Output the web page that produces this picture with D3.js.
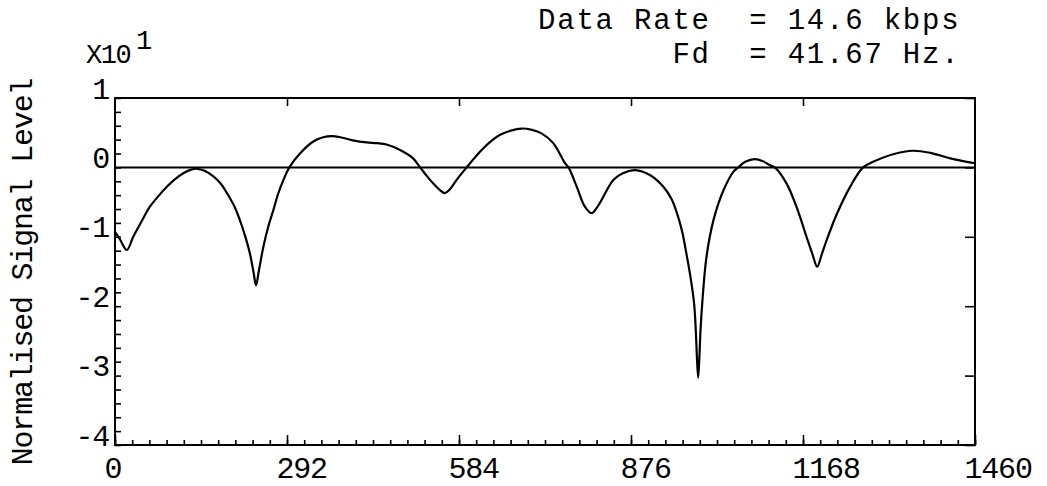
<!DOCTYPE html>
<html>
<head>
<meta charset="utf-8">
<script src="https://cdn.jsdelivr.net/npm/d3@7"></script>
<style>
  html, body { margin: 0; padding: 0; background: #fff; }
  svg text { font-family: "Liberation Mono", "DejaVu Sans Mono", monospace; fill: #000; white-space: pre; }
</style>
</head>
<body>
<svg id="chart" width="1047" height="486"></svg>
<script>
// Sample position along the record (x) and normalised level in units of 10 dB (y)
const sampleIndex = [
  0, 8, 20, 31, 45, 59, 74, 88, 102, 116, 128, 140, 152, 167, 180, 190, 202, 212, 222, 229,
  235, 239.5, 244, 252, 260, 269, 277, 286, 296, 314, 336, 352, 370, 390, 404, 427, 445, 461, 484, 506,
  518, 530, 540, 552, 560, 568, 580, 597, 620, 640, 654, 672, 690, 708, 724, 744, 764, 770, 784, 798,
  809, 818, 826, 846, 863, 883, 908, 931, 945, 954, 963, 970, 977, 983, 986, 988, 990, 992, 994, 997,
  1004, 1016, 1033, 1050, 1058, 1070, 1086, 1100, 1112, 1120, 1140, 1157, 1174, 1184, 1192, 1200, 1208, 1226, 1248, 1270,
  1287, 1321, 1355, 1384, 1418, 1440, 1460
];
const signalLevel = [
  -0.93, -1.03, -1.19, -1.00, -0.78, -0.57, -0.41, -0.28, -0.17, -0.085, -0.035, -0.02, -0.05, -0.13, -0.24, -0.37, -0.55, -0.76, -1.02, -1.24,
  -1.50, -1.70, -1.50, -1.14, -0.86, -0.61, -0.38, -0.18, 0.0, 0.20, 0.37, 0.43, 0.45, 0.42, 0.39, 0.36, 0.35, 0.33, 0.25, 0.13,
  0.0, -0.13, -0.23, -0.33, -0.37, -0.32, -0.18, 0.0, 0.23, 0.39, 0.47, 0.53, 0.56, 0.54, 0.49, 0.35, 0.06, 0.0, -0.28, -0.57,
  -0.66, -0.58, -0.47, -0.18, -0.08, -0.04, -0.11, -0.28, -0.46, -0.66, -0.93, -1.24, -1.58, -1.95, -2.35, -2.75, -3.03, -2.75, -2.35, -1.95,
  -1.30, -0.76, -0.33, -0.06, 0.0, 0.08, 0.12, 0.09, 0.03, 0.0, -0.23, -0.57, -1.00, -1.25, -1.43, -1.25, -1.05, -0.66, -0.28, 0.0,
  0.08, 0.19, 0.24, 0.21, 0.13, 0.09, 0.06
];

const xTickValues = [0, 292, 584, 876, 1168, 1460];
const xTickLabels = ["0", "292", "584", "876", "1168", "1460"];
const yTickValues = [1, 0, -1, -2, -3, -4];
const yTickLabels = ["1", "0", "-1", "-2", "-3", "-4"];
const scaleLabel = "X10";
const scaleExponent = "1";
const yTitle = "Normalised Signal Level";
const titleLines = ["Data Rate  = 14.6 kbps", "       Fd  = 41.67 Hz."];

const svg = d3.select("#chart");
const plot = { left: 115, right: 975, top: 98, bottom: 445 };

const x = d3.scaleLinear().domain([0, 1460]).range([plot.left, plot.right]);
const y = d3.scaleLinear().domain([-4, 1]).range([plot.bottom, plot.top]);

const strokeW = 2;
const labelFont = { size: 30, spacing: -1.2 };

// Minor ticks along the bottom (inside the frame)
const minorX = d3.range(0, 1460.01, 29.2);
svg.append("g")
  .attr("transform", `translate(0,${plot.bottom})`)
  .call(d3.axisBottom(x).tickValues(minorX).tickSize(-5).tickFormat(""))
  .call(g => g.select(".domain").remove())
  .call(g => g.selectAll("line").attr("stroke", "#000").attr("stroke-width", 1.6));

// Major ticks and labels along the bottom
const bottomLabels = new Map(xTickValues.map((v, i) => [v, xTickLabels[i]]));
svg.append("g")
  .attr("transform", `translate(0,${plot.bottom})`)
  .call(d3.axisBottom(x).tickValues(xTickValues).tickSize(-10).tickFormat(d => bottomLabels.get(d)))
  .call(g => g.select(".domain").remove())
  .call(g => g.selectAll("line").attr("stroke", "#000").attr("stroke-width", 1.6))
  .call(g => g.selectAll("text")
    .attr("x", -11).attr("y", 33).attr("dy", null)
    .attr("text-anchor", "start")
    .attr("font-size", labelFont.size)
    .attr("letter-spacing", labelFont.spacing)
    .attr("fill", "#000"));

// Major ticks along the top
svg.append("g")
  .attr("transform", `translate(0,${plot.top})`)
  .call(d3.axisTop(x).tickValues(xTickValues.slice(1, -1)).tickSize(-8).tickFormat(""))
  .call(g => g.select(".domain").remove())
  .call(g => g.selectAll("line").attr("stroke", "#000").attr("stroke-width", 1.6));

// Minor ticks on the left
const minorY = d3.range(-4, 1.001, 0.2);
svg.append("g")
  .attr("transform", `translate(${plot.left},0)`)
  .call(d3.axisLeft(y).tickValues(minorY).tickSize(-6).tickFormat(""))
  .call(g => g.select(".domain").remove())
  .call(g => g.selectAll("line").attr("stroke", "#000").attr("stroke-width", 1.6));

// Left labels, sitting on their tick
const leftLabels = new Map(yTickValues.map((v, i) => [v, yTickLabels[i]]));
svg.append("g")
  .attr("transform", `translate(${plot.left},0)`)
  .call(d3.axisLeft(y).tickValues(yTickValues).tickSize(0).tickPadding(6).tickFormat(d => leftLabels.get(d)))
  .call(g => g.select(".domain").remove())
  .call(g => g.selectAll("text")
    .attr("dy", null).attr("y", 0)
    .attr("font-size", labelFont.size)
    .attr("letter-spacing", labelFont.spacing)
    .attr("fill", "#000"));

// Major ticks on the right
svg.append("g")
  .attr("transform", `translate(${plot.right},0)`)
  .call(d3.axisRight(y).tickValues(yTickValues).tickSize(-10).tickFormat(""))
  .call(g => g.select(".domain").remove())
  .call(g => g.selectAll("line").attr("stroke", "#000").attr("stroke-width", 1.6));

// Frame
svg.append("rect")
  .attr("x", plot.left).attr("y", plot.top)
  .attr("width", plot.right - plot.left).attr("height", plot.bottom - plot.top)
  .attr("fill", "none").attr("stroke", "#000").attr("stroke-width", strokeW);

// Reference line at zero
svg.append("line")
  .attr("x1", x(0)).attr("x2", x(1460))
  .attr("y1", y(0)).attr("y2", y(0))
  .attr("stroke", "#000").attr("stroke-width", strokeW);

// Signal trace
const points = sampleIndex.map((v, i) => [v, signalLevel[i]]);
svg.append("path")
  .datum(points)
  .attr("fill", "none")
  .attr("stroke", "#000")
  .attr("stroke-width", 2.2)
  .attr("stroke-linejoin", "round")
  .attr("d", d3.line().x(d => x(d[0])).y(d => y(d[1])).curve(d3.curveCatmullRom.alpha(0.5)));

// Axis multiplier
const mult = svg.append("text").attr("x", 86).attr("y", 63).attr("font-size", 27).attr("letter-spacing", -1.5);
mult.append("tspan").text(scaleLabel);
mult.append("tspan").attr("dy", -14).attr("dx", 6).text(scaleExponent);

// Run parameters, top right
svg.selectAll("text.param")
  .data(titleLines)
  .join("text")
  .attr("class", "param")
  .attr("x", 538)
  .attr("y", (d, i) => 29 + i * 34)
  .attr("text-anchor", "start")
  .attr("font-size", 29)
  .attr("letter-spacing", 1.8)
  .text(d => d);

// Vertical title
svg.append("text")
  .attr("transform", "translate(32,272) rotate(-90)")
  .attr("text-anchor", "middle")
  .attr("font-size", labelFont.size)
  .attr("letter-spacing", labelFont.spacing)
  .text(yTitle);
</script>
</body>
</html>
